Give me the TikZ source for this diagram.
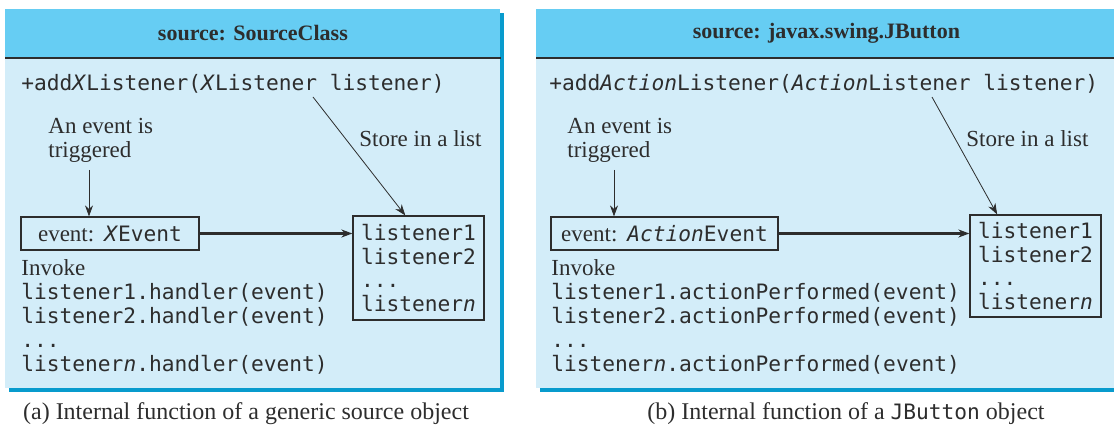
\documentclass[tikz,border=0pt]{standalone}
\usepackage{fontspec}
\setmainfont{Liberation Serif}
\setmonofont{DejaVu Sans Mono}
\definecolor{headerBlue}{RGB}{102, 205, 243}
\definecolor{bodyBlue}{RGB}{211, 237, 249}
\definecolor{shadowBlue}{RGB}{8, 155, 205}
\definecolor{lineGray}{RGB}{45, 45, 45}
\usetikzlibrary{arrows.meta, positioning, calc}
\newcommand{\codetext}[1]{{\fontsize{10.6}{12}\selectfont\ttfamily #1}}

\begin{document}
\begin{tikzpicture}[x=0.5pt, y=-0.5pt, text=lineGray,
    txt/.style={font=\fontsize{11.5}{12}\selectfont, inner sep=0pt},
    code/.style={font=\fontsize{10.6}{11.75}\selectfont\ttfamily, inner sep=0pt},
    header/.style={fill=headerBlue, inner sep=0pt, minimum height=24pt, anchor=north west, font=\fontsize{11}{13}\selectfont\bfseries},
    box/.style={draw=lineGray, line width=0.6pt, fill=bodyBlue, inner sep=0pt},
    arr/.style={-{Stealth[length=5.5pt, width=4pt]}, line width=0.4pt, draw=lineGray},
    heavyarr/.style={arr, line width=1.1pt}]
  \useasboundingbox (0,0) rectangle (1114,427);

  % panel (a)
  \fill[shadowBlue] (9,13) rectangle (504,392);
  \fill[bodyBlue] (5,9) rectangle (500,388);
  \node[header, minimum width=247.5pt] (headA) at (5,9) {source: SourceClass};
  \draw[lineGray, line width=0.8pt] (headA.south west) -- (headA.south east);
  \node[code, anchor=base west] (addA) at (21,91) {+add\textit{X}Listener(\textit{X}Listener listener)};
  \node[txt, anchor=north west, align=left] (trigA) at (48,118) {An event is\\triggered};
  \node[txt, anchor=base west] (storeA) at (359,147) {Store in a list};
  \node[box, minimum width=89pt, minimum height=16.5pt, font=\fontsize{11.5}{12}\selectfont] (evA) at (110,233.5) {event:\hspace{5pt}\codetext{\textit{X}Event}};
  \node[box, code, minimum width=65.5pt, minimum height=52pt, align=left] (lstA) at (418.5,268) {listener1\\listener2\\...\\listener\textit{n}};
  \node[txt, anchor=north west, align=left] (callA) at (21,259) {Invoke\\\codetext{listener1.handler(event)}\\\codetext{listener2.handler(event)}\\\codetext{...}\\\codetext{listener\textit{n}.handler(event)}};
  \coordinate (trigEndA) at (89,170);
  \coordinate (storeStartA) at (313,97);
  \draw[arr] (trigEndA) -- (trigEndA |- evA.north);
  \draw[arr] (storeStartA) -- ($(lstA.north west)!0.4!(lstA.north east)$);
  \draw[heavyarr] (evA.east) -- (evA.east -| lstA.west);
  \node[font=\fontsize{12}{14}\selectfont] (capA) at (246,414) {(a) Internal function of a generic source object};

  % panel (b)
  \fill[shadowBlue] (540,13) rectangle (1120,392);
  \fill[bodyBlue] (536,9) rectangle (1116,388);
  \node[header, minimum width=290pt] (headB) at (536,9) {source: javax.swing.JButton};
  \draw[lineGray, line width=0.8pt] (headB.south west) -- (headB.south east);
  \node[code, anchor=base west] (addB) at (549,91) {+add\textit{Action}Listener(\textit{Action}Listener listener)};
  \node[txt, anchor=north west, align=left] (trigB) at (567,118) {An event is\\triggered};
  \node[txt, anchor=base west] (storeB) at (966,147) {Store in a list};
  \node[box, minimum width=113.5pt, minimum height=16.5pt, font=\fontsize{11.5}{12}\selectfont] (evB) at (664.5,233.5) {event:\hspace{5pt}\codetext{\textit{Action}Event}};
  \node[box, code, minimum width=65.5pt, minimum height=51pt, align=left] (lstB) at (1035.5,266) {listener1\\listener2\\...\\listener\textit{n}};
  \node[txt, anchor=north west, align=left] (callB) at (551,259) {Invoke\\\codetext{listener1.actionPerformed(event)}\\\codetext{listener2.actionPerformed(event)}\\\codetext{...}\\\codetext{listener\textit{n}.actionPerformed(event)}};
  \coordinate (trigEndB) at (614,170);
  \coordinate (storeStartB) at (932,97);
  \draw[arr] (trigEndB) -- (trigEndB |- evB.north);
  \draw[arr] (storeStartB) -- ($(lstB.north west)!0.21!(lstB.north east)$);
  \draw[heavyarr] (evB.east) -- (evB.east -| lstB.west);
  \node[font=\fontsize{12}{14}\selectfont] (capB) at (846,414) {(b) Internal function of a \codetext{JButton} object};
\end{tikzpicture}
\end{document}
